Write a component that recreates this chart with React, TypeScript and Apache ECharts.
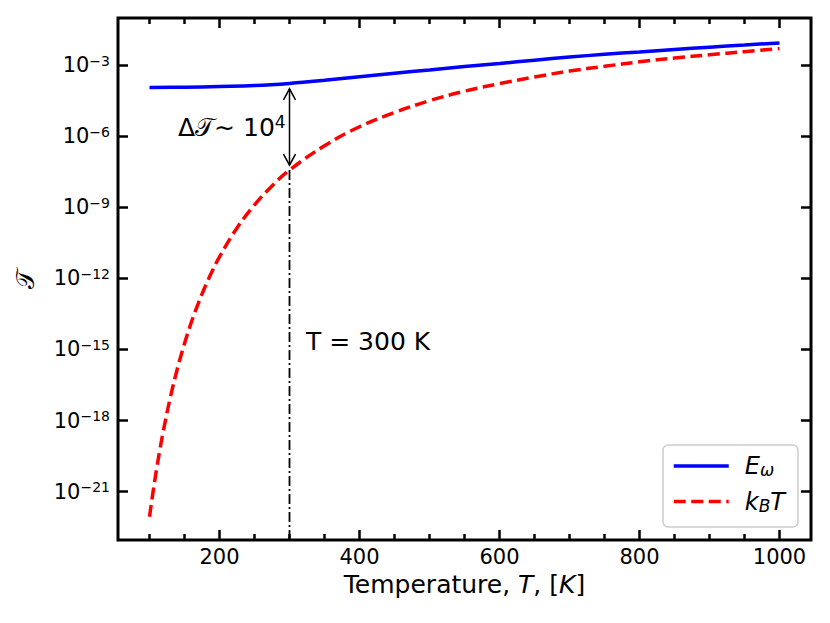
import React, { useEffect, useRef } from "react";
import * as echarts from "echarts";

const eOmegaTempK = [100, 150, 200, 250, 300, 350, 400, 450, 500, 550, 600, 650, 700, 750, 800, 850, 900, 950, 1000];
// log10 of E_omega
const eOmegaLog10 = [-3.94, -3.93, -3.9, -3.86, -3.77, -3.64, -3.49, -3.34, -3.2, -3.06, -2.93, -2.79, -2.66, -2.54, -2.44, -2.34, -2.24, -2.15, -2.06];

const kBTTempK = [100, 105, 110, 115, 120, 130, 140, 150, 160, 170, 180, 190, 200, 225, 250, 275, 300, 350, 400, 450, 500, 550, 600, 650, 700, 750, 800, 850, 900, 950, 1000];
// log10 of k_B T curve
const kBTLog10 = [-22.06, -21.02, -20.07, -19.2, -18.4, -16.99, -15.79, -14.75, -13.83, -13.03, -12.31, -11.67, -11.09, -9.87, -8.9, -8.1, -7.43, -6.4, -5.6, -5.0, -4.5, -4.1, -3.78, -3.5, -3.25, -3.05, -2.86, -2.7, -2.56, -2.43, -2.3];

const xMajorTicks = [200, 400, 600, 800, 1000];
const xMinorTicks = [100, 150, 250, 300, 350, 450, 500, 550, 650, 700, 750, 850, 900, 950];
const yMajorTicks = [-21, -18, -15, -12, -9, -6, -3];

const markerT = 300;
const markerKBTLog10 = -7.43;
const arrowTopLog10 = -4.0;
const arrowBottomLog10 = -7.22;

const X_MIN = 55;
const X_MAX = 1045;
const Y_MIN = -23.04;
const Y_MAX = -1.01;

const FONT = "DejaVu Sans";

export default function App() {
  const ref = useRef<HTMLDivElement>(null);

  useEffect(() => {
    if (!ref.current) return;
    const chart = echarts.init(ref.current, undefined, { renderer: "svg" });

    const gridRect = { left: 118, top: 18, right: 19, bottom: 83 };
    const tickStyle = { color: "#000", width: 2.5 };

    const option: any = {
      animation: false,
      backgroundColor: "#fff",
      grid: [
        { ...gridRect, show: true, borderColor: "#000", borderWidth: 3, backgroundColor: "transparent", z: 5 },
        { ...gridRect, show: false },
      ],
      xAxis: [
        {
          gridIndex: 0,
          type: "value",
          position: "bottom",
          min: X_MIN,
          max: X_MAX,
          axisLine: { show: false },
          splitLine: { show: false },
          axisTick: { show: true, inside: true, length: 10, customValues: xMajorTicks, lineStyle: tickStyle },
          axisLabel: {
            customValues: xMajorTicks,
            margin: 6,
            fontSize: 21,
            color: "#000",
            fontFamily: FONT,
            formatter: (v: number) => String(Math.round(v)),
          },
          name: "{n|Temperature, }{it|T}{n|, [}{it|K}{n|]}",
          nameLocation: "middle",
          nameGap: 32,
          nameTextStyle: {
            color: "#000",
            rich: {
              n: { fontSize: 25, fontFamily: FONT, color: "#000" },
              it: { fontSize: 25, fontFamily: FONT, fontStyle: "italic", color: "#000" },
            },
          },
        },
        {
          gridIndex: 0,
          type: "value",
          position: "top",
          min: X_MIN,
          max: X_MAX,
          axisLine: { show: false },
          splitLine: { show: false },
          axisTick: { show: true, inside: true, length: 10, customValues: xMajorTicks, lineStyle: tickStyle },
          axisLabel: { show: false },
        },
        {
          gridIndex: 1,
          type: "value",
          position: "bottom",
          min: X_MIN,
          max: X_MAX,
          axisLine: { show: false },
          splitLine: { show: false },
          axisTick: { show: true, inside: true, length: 6, customValues: xMinorTicks, lineStyle: tickStyle },
          axisLabel: { show: false },
        },
        {
          gridIndex: 1,
          type: "value",
          position: "top",
          min: X_MIN,
          max: X_MAX,
          axisLine: { show: false },
          splitLine: { show: false },
          axisTick: { show: true, inside: true, length: 6, customValues: xMinorTicks, lineStyle: tickStyle },
          axisLabel: { show: false },
        },
      ],
      yAxis: [
        {
          gridIndex: 0,
          type: "value",
          position: "left",
          min: Y_MIN,
          max: Y_MAX,
          axisLine: { show: false },
          splitLine: { show: false },
          axisTick: { show: true, inside: true, length: 10, customValues: yMajorTicks, lineStyle: tickStyle },
          axisLabel: {
            customValues: yMajorTicks,
            margin: 8,
            color: "#000",
            formatter: (v: number) => `{b|10}{s|\u2212${Math.abs(Math.round(v))}}`,
            rich: {
              b: { fontSize: 21, fontFamily: FONT, color: "#000" },
              s: { fontSize: 14, fontFamily: FONT, color: "#000", padding: [0, 0, 9, 0] },
            },
          },
          name: "\u{1D4AF}",
          nameLocation: "middle",
          nameGap: 80,
          nameRotate: 90,
          nameTextStyle: { fontSize: 25, fontFamily: FONT, color: "#000" },
        },
        {
          gridIndex: 0,
          type: "value",
          position: "right",
          min: Y_MIN,
          max: Y_MAX,
          axisLine: { show: false },
          splitLine: { show: false },
          axisTick: { show: true, inside: true, length: 10, customValues: yMajorTicks, lineStyle: tickStyle },
          axisLabel: { show: false },
        },
        { gridIndex: 1, type: "value", min: Y_MIN, max: Y_MAX, show: false },
      ],
      legend: {
        data: ["E_ω", "k_BT"],
        orient: "vertical",
        left: 663,
        top: 445,
        padding: [9, 13, 13, 9],
        itemGap: 11,
        itemWidth: 55,
        itemHeight: 14,
        itemStyle: { opacity: 0 },
        lineStyle: { width: 3.5 },
        backgroundColor: "rgba(255,255,255,0.8)",
        borderColor: "#cccccc",
        borderWidth: 1.5,
        borderRadius: 5,
        formatter: (name: string) => (name === "E_ω" ? "{g|}{i|E}{sub|ω}" : "{g|}{i|k}{sub|B}{i|T}"),
        textStyle: {
          color: "#000",
          rich: {
            g: { width: 11 },
            i: { fontSize: 24, fontFamily: FONT, fontStyle: "italic", color: "#000", lineHeight: 26 },
            sub: { fontSize: 17, fontFamily: FONT, fontStyle: "italic", color: "#000", padding: [8, 0, 0, 0] },
          },
        },
      },
      series: [
        {
          name: "E_ω",
          type: "line",
          xAxisIndex: 0,
          yAxisIndex: 0,
          data: eOmegaTempK.map((t, i) => [t, eOmegaLog10[i]]),
          symbol: "none",
          smooth: 0.4,
          lineStyle: { color: "#0000ff", width: 3.5 },
          itemStyle: { color: "#0000ff" },
          z: 3,
        },
        {
          name: "k_BT",
          type: "line",
          xAxisIndex: 0,
          yAxisIndex: 0,
          data: kBTTempK.map((t, i) => [t, kBTLog10[i]]),
          symbol: "none",
          smooth: 0.4,
          lineStyle: { color: "#ff0000", width: 3.5, type: [12, 5.5] },
          itemStyle: { color: "#ff0000" },
          z: 3,
        },
        {
          name: "marker",
          type: "line",
          xAxisIndex: 0,
          yAxisIndex: 0,
          data: [
            [markerT, markerKBTLog10],
            [markerT, Y_MIN],
          ],
          symbol: "none",
          lineStyle: { color: "#000", width: 1.8, type: [10, 3, 2, 3] },
          z: 2,
        },
        {
          name: "arrow",
          type: "custom",
          xAxisIndex: 0,
          yAxisIndex: 0,
          data: [[markerT, arrowTopLog10, arrowBottomLog10]],
          encode: { x: 0, y: [1, 2] },
          renderItem: (params: any, api: any) => {
            const x = api.value(0);
            const p1 = api.coord([x, api.value(1)]);
            const p2 = api.coord([x, api.value(2)]);
            const w = 6;
            const h = 11;
            const st = { stroke: "#000", lineWidth: 1.5, fill: "none" };
            return {
              type: "group",
              children: [
                { type: "line", shape: { x1: p1[0], y1: p1[1], x2: p2[0], y2: p2[1] }, style: st },
                { type: "polyline", shape: { points: [[p1[0] - w, p1[1] + h], [p1[0], p1[1]], [p1[0] + w, p1[1] + h]] }, style: st },
                { type: "polyline", shape: { points: [[p2[0] - w, p2[1] - h], [p2[0], p2[1]], [p2[0] + w, p2[1] - h]] }, style: st },
              ],
            };
          },
          z: 4,
        },
      ],
      graphic: [
        {
          type: "text",
          x: 178,
          y: 127,
          style: {
            text: "{a|\u0394}{c|\u{1D4AF}}{a|\u223C 10}{s|4}",
            verticalAlign: "middle",
            align: "left",
            rich: {
              a: { fontSize: 25, fontFamily: FONT, fill: "#000", color: "#000" },
              c: { fontSize: 25, fontFamily: FONT, fill: "#000", color: "#000" },
              s: { fontSize: 17, fontFamily: FONT, fill: "#000", color: "#000", padding: [0, 0, 11, 0] },
            },
          },
        },
        {
          type: "text",
          x: 306,
          y: 341,
          style: {
            text: "T = 300 K",
            fontSize: 25,
            fontFamily: FONT,
            fill: "#000",
            verticalAlign: "middle",
            align: "left",
          },
        },
      ],
    };

    chart.setOption(option);
    return () => chart.dispose();
  }, []);

  return <div ref={ref} style={{ position: "absolute", left: 0, top: 0, width: 830, height: 623 }} />;
}
